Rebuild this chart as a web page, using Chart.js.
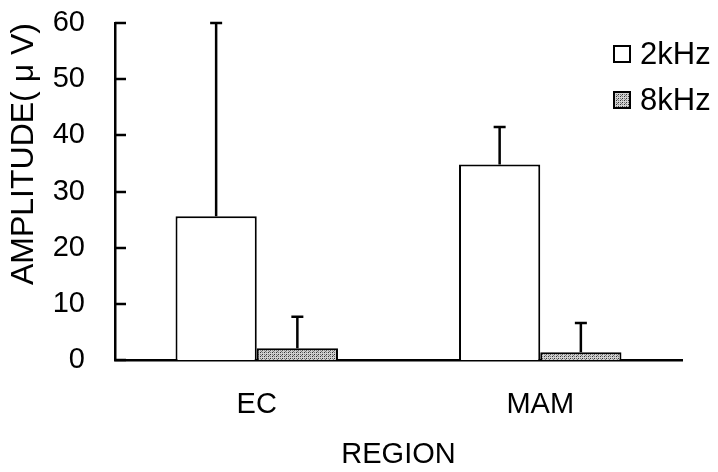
<!DOCTYPE html>
<html>
<head>
<meta charset="utf-8">
<script src="https://cdn.jsdelivr.net/npm/chart.js@4.4.1/dist/chart.umd.min.js"></script>
<style>
body { margin: 0; background: #fff; }
#wrap { width: 718px; height: 472px; }
</style>
</head>
<body>
<div id="wrap"><canvas id="chart" width="718" height="472"></canvas></div>
<script>
var categories = ['EC', 'MAM'];
var seriesNames = ['2kHz', '8kHz'];
var amp2k = [25.6, 34.8];
var err2k = [34.4, 6.7];
var amp8k = [2.1, 1.4];
var err8k = [5.6, 5.2];
var yTicks = [0, 10, 20, 30, 40, 50, 60];

var FONT = '"Liberation Sans", Arial, Helvetica, sans-serif';

function makeDots() {
	var c = document.createElement('canvas');
	c.width = 4;
	c.height = 4;
	var g = c.getContext('2d');
	g.fillStyle = '#d0d0d0';
	g.fillRect(0, 0, 4, 4);
	g.fillStyle = '#333';
	g.fillRect(0, 0, 1, 1);
	g.fillRect(2, 2, 1, 1);
	g.fillStyle = '#777';
	g.fillRect(2, 0, 1, 1);
	g.fillRect(0, 2, 1, 1);
	g.fillRect(1, 3, 1, 1);
	return g.createPattern(c, 'repeat');
}
var dots = makeDots();

// error bars, only the upper half, with a cap
var errorBars = {
	id: 'errorBars',
	afterDatasetsDraw: function(chart) {
		var ctx = chart.ctx;
		var y = chart.scales.y;
		ctx.save();
		ctx.strokeStyle = '#000';
		ctx.lineWidth = 2.5;
		chart.data.datasets.forEach(function(ds, di) {
			var meta = chart.getDatasetMeta(di);
			meta.data.forEach(function(bar, i) {
				var top = y.getPixelForValue(ds.data[i] + ds.errors[i]);
				ctx.beginPath();
				ctx.moveTo(bar.x, bar.y);
				ctx.lineTo(bar.x, top);
				ctx.moveTo(bar.x - 6, top);
				ctx.lineTo(bar.x + 6, top);
				ctx.stroke();
			});
		});
		ctx.restore();
	}
};

// tick marks pointing into the plot
var innerTicks = {
	id: 'innerTicks',
	afterDraw: function(chart) {
		var ctx = chart.ctx;
		var y = chart.scales.y;
		var left = chart.chartArea.left;
		ctx.save();
		ctx.strokeStyle = '#000';
		ctx.lineWidth = 2.5;
		yTicks.forEach(function(v) {
			var p = Math.round(y.getPixelForValue(v));
			ctx.beginPath();
			ctx.moveTo(left, p);
			ctx.lineTo(left + 11, p);
			ctx.stroke();
		});
		ctx.restore();
	}
};

var boxLegend = {
	id: 'boxLegend',
	afterDraw: function(chart) {
		var ctx = chart.ctx;
		ctx.save();
		ctx.font = '31px ' + FONT;
		ctx.textBaseline = 'middle';
		chart.data.datasets.forEach(function(ds, i) {
			var x = 614, yc = 54 + i * 46;
			ctx.fillStyle = ds.backgroundColor;
			ctx.fillRect(x, yc - 8, 16, 16);
			ctx.strokeStyle = '#000';
			ctx.lineWidth = 2;
			ctx.strokeRect(x, yc - 8, 16, 16);
			ctx.fillStyle = '#000';
			ctx.fillText(ds.label, x + 26, yc + 1);
		});
		ctx.restore();
	}
};

new Chart(document.getElementById('chart').getContext('2d'), {
	type: 'bar',
	data: {
		labels: categories,
		datasets: [{
			label: seriesNames[0],
			data: amp2k,
			errors: err2k,
			backgroundColor: '#fff',
			borderColor: '#000',
			borderWidth: 2,
			borderSkipped: 'bottom'
		}, {
			label: seriesNames[1],
			data: amp8k,
			errors: err8k,
			backgroundColor: dots,
			borderColor: '#000',
			borderWidth: 2,
			borderSkipped: 'bottom'
		}]
	},
	options: {
		responsive: false,
		animation: false,
		barPercentage: 1,
		categoryPercentage: 0.573,
		layout: { padding: { top: 23, right: 36, bottom: 0, left: 3 } },
		plugins: {
			legend: { display: false },
			tooltip: { enabled: false }
		},
		scales: {
			x: {
				afterFit: function(s) {
					s.height = 112;
				},
				grid: { display: false, drawTicks: false },
				border: { color: '#000', width: 2.5 },
				ticks: { color: '#000', padding: 28, font: { family: FONT, size: 29 } },
				title: { display: true, text: 'REGION', color: '#000', padding: { top: 15, bottom: 0 }, font: { family: FONT, size: 29 } }
			},
			y: {
				min: 0,
				max: 60,
				afterBuildTicks: function(s) {
					s.ticks = yTicks.map(function(v) { return { value: v }; });
				},
				afterFit: function(s) {
					s.width = 112;
					s.paddingTop = 0;
					s.paddingBottom = 0;
				},
				grid: { display: false, drawTicks: false },
				border: { color: '#000', width: 2.5 },
				ticks: { color: '#000', padding: 30, font: { family: FONT, size: 29 } },
				title: { display: true, text: 'AMPLITUDE( \u03bc V)', align: 'end', color: '#000', padding: { top: 2, bottom: 12 }, font: { family: FONT, size: 32 } }
			}
		}
	},
	plugins: [errorBars, innerTicks, boxLegend]
});
</script>
</body>
</html>
